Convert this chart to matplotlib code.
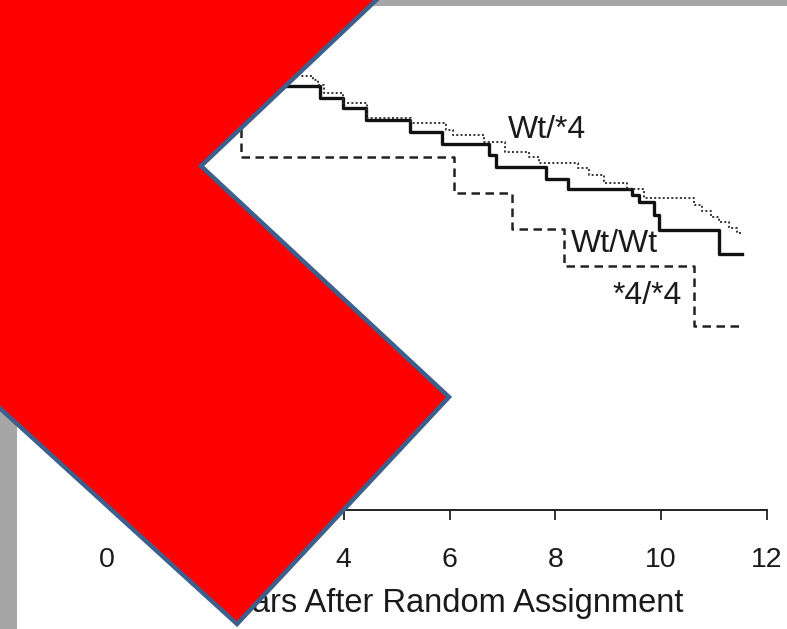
import matplotlib
matplotlib.use('Agg')

import matplotlib.pyplot as plt
from matplotlib.patches import Polygon, Rectangle

plt.rcParams['font.family'] = ['Liberation Sans', 'DejaVu Sans']

# Kaplan-Meier style step curves (years, proportion)
wtwt_t = [0, 1.1, 2.4, 3.55, 3.98, 4.43, 5.26, 5.85, 6.75, 6.87, 7.83, 8.23,
          9.45, 9.58, 9.87, 9.96, 11.09, 11.53]
wtwt_s = [1.0, 0.985, 0.962, 0.933, 0.910, 0.881, 0.852, 0.824, 0.798, 0.769,
          0.740, 0.717, 0.702, 0.686, 0.655, 0.619, 0.562, 0.562]

wt4_t = [0, 1.5, 3.21, 3.42, 3.51, 3.62, 3.98, 4.45, 5.28, 5.94, 6.06, 6.66,
         7.04, 7.51, 7.70, 8.42, 8.64, 8.92, 9.36, 9.68, 10.62, 10.77, 10.94,
         11.09, 11.28, 11.43, 11.51]
wt4_s = [1.0, 0.993, 0.986, 0.976, 0.964, 0.945, 0.921, 0.886, 0.874, 0.857,
         0.845, 0.829, 0.805, 0.793, 0.779, 0.767, 0.750, 0.731, 0.717, 0.695,
         0.679, 0.664, 0.650, 0.638, 0.624, 0.612, 0.612]

s44_t = [0, 0.9, 2.06, 6.09, 7.19, 8.17, 10.62, 11.47]
s44_s = [1.0, 0.91, 0.793, 0.707, 0.621, 0.533, 0.390, 0.390]

labels = ['Wt/*4', 'Wt/Wt', '*4/*4']
label_x = [7.85, 9.11, 9.74]
label_y = [0.857, 0.586, 0.462]

xticks = [0, 2, 4, 6, 8, 10, 12]

W, H = 787, 629
fig = plt.figure(figsize=(W / 100, H / 100), dpi=100)
ax = fig.add_axes([132 / W, (H - 510) / H, 635 / W, 460 / H])

ax.step(wtwt_t, wtwt_s, where='post', color='#111111', lw=2.4)
ax.step(wt4_t, wt4_s, where='post', color='#333333', lw=1.4,
        linestyle=(0, (1, 1.2)))
ax.step(s44_t, s44_s, where='post', color='#222222', lw=1.8,
        linestyle=(0, (3.4, 2.2)))

for txt, x, y in zip(labels, label_x, label_y):
    ax.text(x, y, txt, ha='center', va='center', fontsize=23, color='#1a1a1a')

ax.set_xlim(0, 12)
ax.set_ylim(-0.048, 1.048)
ax.set_xticks(xticks)
ax.set_xticklabels([''] + [str(v) for v in xticks[1:]])
ax.set_yticks([])
for side in ['left', 'top', 'right']:
    ax.spines[side].set_visible(False)
ax.spines['bottom'].set_linewidth(1.4)
ax.spines['bottom'].set_color('#222222')
ax.tick_params(axis='x', length=7, width=1.3, color='#222222', pad=19.5,
               labelsize=20.5, labelcolor='#1a1a1a')
ax.set_xlabel('Years After Random Assignment', fontsize=23.5, color='#1a1a1a',
              labelpad=11)

# the "0" label sits a little left of its tick in the picture
ax.annotate(str(xticks[0]), xy=(0, 0), xycoords=('data', 'axes fraction'),
            xytext=(-18, -26.5), textcoords='offset points', ha='center',
            va='top', fontsize=20.5, color='#1a1a1a')


def px(x, y):
    return (x / W, 1 - y / H)


# grey slide frame
fig.add_artist(Rectangle(px(0, 6), 1, 6 / H, transform=fig.transFigure,
                         facecolor='#a6a6a6', edgecolor='none', zorder=5))
fig.add_artist(Rectangle(px(0, H), 17 / W, 1, transform=fig.transFigure,
                         facecolor='#a6a6a6', edgecolor='none', zorder=5))

# red chevron laid over the plot
chevron = [(408, -30), (201, 166), (449, 397), (237, 624), (-30, 381), (-30, -30)]
fig.add_artist(Polygon([px(x, y) for x, y in chevron], closed=True,
                       transform=fig.transFigure, facecolor='#ff0000',
                       edgecolor='#3d5f8b', linewidth=3.2, zorder=10))

fig.savefig('out.png', dpi=100)
